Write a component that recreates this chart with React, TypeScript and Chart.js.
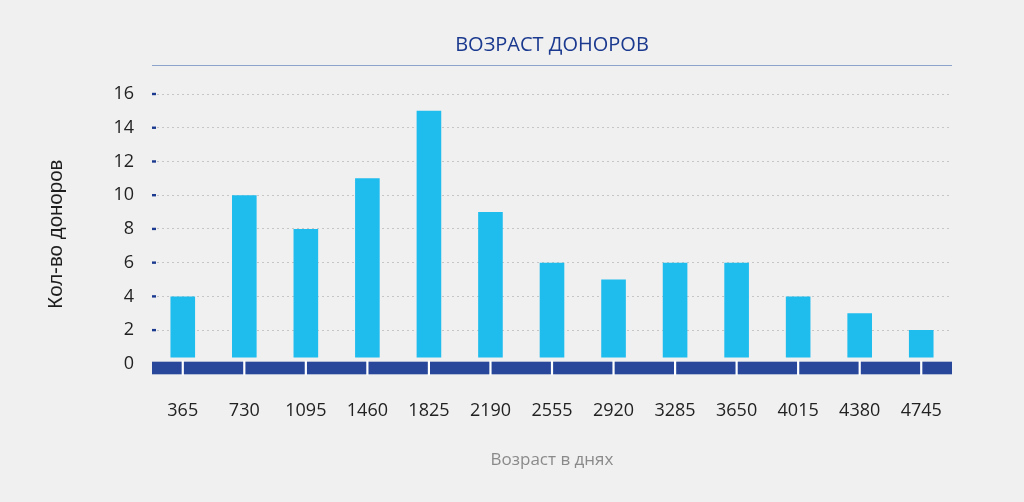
import React, { useEffect, useRef } from "react";
import { Chart, registerables } from "chart.js";

Chart.register(...registerables);

const TITLE = "ВОЗРАСТ ДОНОРОВ";
const X_TITLE = "Возраст в днях";
const Y_TITLE = "Кол-во доноров";
const CATEGORIES = ["365", "730", "1095", "1460", "1825", "2190", "2555", "2920", "3285", "3650", "4015", "4380", "4745"];
const DONORS = [4, 10, 8, 11, 15, 9, 6, 5, 6, 6, 4, 3, 2];
const Y_TICKS = [0, 2, 4, 6, 8, 10, 12, 14, 16];

const NAVY = "#1b3a8f";
const BAND = "#28479a";
const BAR = "#1fbcee";

const decorPlugin = {
  id: "decor",
  afterDatasetsDraw(chart: any) {
    const { ctx, chartArea, scales } = chart;
    const { left, right, top, bottom } = chartArea;
    ctx.save();
    // title underline
    ctx.strokeStyle = "#8ea3cc";
    ctx.lineWidth = 1.2;
    ctx.beginPath();
    ctx.moveTo(left, top - 28.5);
    ctx.lineTo(right, top - 28.5);
    ctx.stroke();
    // zero band
    const bandH = 12.6;
    ctx.fillStyle = BAND;
    ctx.fillRect(left, bottom - bandH, right - left, bandH);
    ctx.strokeStyle = "#ffffff";
    ctx.lineWidth = 2.2;
    const xs = scales.x;
    for (let i = 0; i < xs.ticks.length; i++) {
      const px = xs.getPixelForTick(i);
      ctx.beginPath();
      ctx.moveTo(px, bottom - bandH - 1);
      ctx.lineTo(px, bottom + 1);
      ctx.stroke();
    }
    // y tick dots
    const ys = scales.y;
    ctx.fillStyle = NAVY;
    ys.ticks.forEach((t: any) => {
      if (t.value === 0) return;
      const py = ys.getPixelForValue(t.value);
      ctx.fillRect(left, py - 1.2, 4, 2.4);
    });
    ctx.restore();
  },
};

export default function App() {
  const ref = useRef<HTMLCanvasElement | null>(null);

  useEffect(() => {
    if (!ref.current) return;
    const chart = new Chart(ref.current, {
      type: "bar",
      data: {
        labels: CATEGORIES,
        datasets: [
          {
            data: DONORS,
            base: 0.38,
            backgroundColor: BAR,
            borderWidth: 0,
            barPercentage: 0.4,
            categoryPercentage: 1,
          } as any,
        ],
      },
      options: {
        animation: false,
        responsive: true,
        maintainAspectRatio: false,
        layout: { padding: { left: 0, right: 72, top: 0, bottom: 0 } },
        plugins: {
          legend: { display: false },
          tooltip: { enabled: false },
          title: {
            display: true,
            text: TITLE,
            fullSize: false,
            color: NAVY,
            font: { family: "'Open Sans'", size: 20, weight: "normal" },
            padding: { top: 33, bottom: 37 },
          },
        },
        scales: {
          x: {
            type: "category",
            grid: { display: false, drawTicks: false },
            border: { display: false },
            ticks: {
              color: "#222222",
              font: { family: "'Open Sans'", size: 18 },
              padding: 26,
              autoSkip: false,
              maxRotation: 0,
            },
            title: {
              display: true,
              text: X_TITLE,
              color: "#8a8a8a",
              font: { family: "'Open Sans'", size: 17 },
              padding: { top: 32, bottom: 32 },
            },
            afterFit: (scale: any) => {
              scale.height = 127.7;
            },
          },
          y: {
            min: -0.62,
            max: 16,
            grid: {
              drawTicks: false,
              color: (c: any) => (c.tick && c.tick.value === 0 ? "rgba(0,0,0,0)" : "#c6c6c6"),
              lineWidth: 1,
            },
            border: { display: false, dash: [2, 3] },
            afterBuildTicks: (scale: any) => {
              scale.ticks = Y_TICKS.map((v) => ({ value: v }));
            },
            ticks: {
              color: "#222222",
              font: { family: "'Open Sans'", size: 18 },
              padding: 18,
            },
            title: {
              display: true,
              text: Y_TITLE,
              color: "#1e1e1e",
              font: { family: "'Liberation Sans'", size: 20.5 },
              padding: { top: 44.2, bottom: 44.2 },
            },
            afterFit: (scale: any) => {
              scale.width = 152;
            },
          },
        },
      } as any,
      plugins: [decorPlugin],
    });
    return () => chart.destroy();
  }, []);

  return (
    <div style={{ position: "fixed", left: 0, top: 0, right: 0, bottom: 0, background: "#f0f0f0" }}>
      <div style={{ position: "relative", width: 1024, height: 502 }}>
        <canvas ref={ref} />
      </div>
    </div>
  );
}
